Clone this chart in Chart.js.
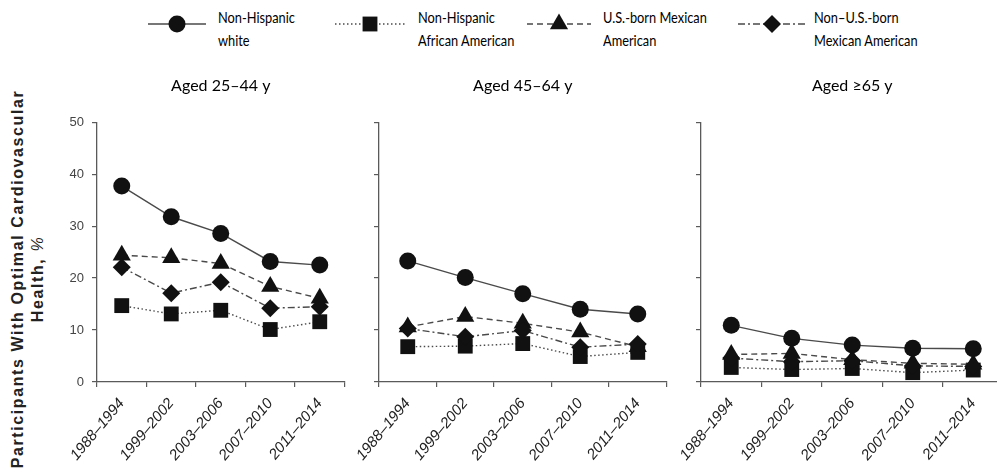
<!DOCTYPE html>
<html>
<head>
<meta charset="utf-8">
<script src="https://cdn.jsdelivr.net/npm/chart.js@4.4.1/dist/chart.umd.min.js"></script>
<style>
body{margin:0;background:#fff;width:997px;height:472px;overflow:hidden;position:relative;font-family:"Liberation Sans",Arial,sans-serif}
canvas.pane{position:absolute;top:60px}
#ytitle{position:absolute;left:28px;top:279px;transform:translate(-50%,-50%) rotate(-90deg);white-space:nowrap;text-align:center;font-weight:bold;font-size:16px;letter-spacing:1.6px;line-height:20px;color:#222}
#ytitle i{font-weight:normal}
.legtxt{position:absolute;top:5px;font-family:Lato,"Liberation Sans",sans-serif;font-size:16px;line-height:23px;color:#000;white-space:nowrap;transform:scaleX(0.8);transform-origin:0 0}
canvas.legmark{position:absolute;top:12px}
</style>
</head>
<body>
<div id="ytitle">Participants With Optimal Cardiovascular<br>Health, <i>%</i></div>
<canvas class="legmark" id="lm0" width="60" height="24" style="left:147px"></canvas>
<canvas class="legmark" id="lm1" width="72" height="24" style="left:334px"></canvas>
<canvas class="legmark" id="lm2" width="66" height="24" style="left:526px"></canvas>
<canvas class="legmark" id="lm3" width="70" height="24" style="left:737px"></canvas>
<div class="legtxt" style="left:218px">Non-Hispanic<br>white</div>
<div class="legtxt" style="left:418px">Non-Hispanic<br>African American</div>
<div class="legtxt" style="left:603px">U.S.-born Mexican<br>American</div>
<div class="legtxt" style="left:814px">Non–U.S.-born<br>Mexican American</div>
<canvas class="pane" id="c1" width="300" height="412" style="left:55px"></canvas>
<canvas class="pane" id="c2" width="343" height="412" style="left:334px"></canvas>
<canvas class="pane" id="c3" width="358" height="412" style="left:656px"></canvas>
<script>
// periodos e titulos
const periods = ['1988–1994', '1999–2002', '2003–2006', '2007–2010', '2011–2014'];
const panelTitles = ['Aged 25–44 y', 'Aged 45–64 y', 'Aged ≥65 y'];
const yTicks = [0, 10, 20, 30, 40, 50];

// valores (%)
const white25 = [37.7, 31.8, 28.6, 23.2, 22.5];
const white45 = [23.3, 20.1, 17.0, 14.0, 13.1];
const white65 = [10.9, 8.4, 7.1, 6.5, 6.4];

const black25 = [14.7, 13.1, 13.8, 10.1, 11.6];
const black45 = [6.8, 6.9, 7.4, 4.9, 5.7];
const black65 = [2.8, 2.4, 2.6, 1.8, 2.3];

const usMex25 = [24.4, 23.9, 22.8, 18.4, 16.1];
const usMex45 = [10.6, 12.6, 11.3, 9.6, 6.8];
const usMex65 = [5.3, 5.5, 4.3, 3.6, 3.4];

const nonUsMex25 = [22.1, 17.1, 19.2, 14.2, 14.5];
const nonUsMex45 = [10.3, 8.7, 9.9, 6.7, 7.3];
const nonUsMex65 = [4.6, 3.9, 4.1, 3.1, 3.0];

const seriesNames = ['Non-Hispanic white', 'Non-Hispanic African American', 'U.S.-born Mexican American', 'Non–U.S.-born Mexican American'];

const marks = [
  {pointStyle: 'circle', r: 8.5, dash: [], order: 0},
  {pointStyle: 'rect', r: 10.5, dash: [1.5, 2.5], order: 3},
  {pointStyle: 'triangle', r: 10.5, dash: [6, 4], order: 2},
  {pointStyle: 'rectRot', r: 9, dash: [7, 3, 2, 3], order: 1}
];
const lineColor = '#4a4a4a';
const markColor = '#111';
const axisColor = '#5a5a5a';

function makePanel(id, title, values, showLabels, yw, padRight) {
  const datasets = values.map((v, i) => ({
    label: seriesNames[i],
    data: v,
    order: marks[i].order,
    borderColor: lineColor,
    borderWidth: 1.4,
    borderDash: marks[i].dash,
    pointStyle: marks[i].pointStyle,
    pointRadius: marks[i].r,
    pointBackgroundColor: markColor,
    pointBorderColor: markColor,
    pointBorderWidth: 0,
    tension: 0,
    fill: false,
    clip: false
  }));
  return new Chart(document.getElementById(id), {
    type: 'line',
    data: {labels: periods, datasets: datasets},
    options: {
      responsive: false,
      animation: false,
      layout: {padding: {left: 0, right: padRight, top: 0, bottom: 0}},
      plugins: {
        legend: {display: false},
        tooltip: {enabled: false},
        title: {
          display: true, text: title, fullSize: false, color: '#000',
          font: {family: 'Lato,"Liberation Sans",sans-serif', size: 16, weight: 'normal'},
          padding: {top: 16, bottom: 27}
        }
      },
      scales: {
        x: {
          offset: true,
          grid: {offset: true, drawOnChartArea: false, tickLength: 5, color: axisColor, lineWidth: 1.2},
          border: {color: axisColor, width: 1.3},
          ticks: {minRotation: 50, maxRotation: 50, color: '#222', padding: 8,
            font: {family: '"Liberation Sans",sans-serif', style: 'italic', size: 15}},
          afterFit: s => { s.height = 90; s.paddingLeft = 0; s.paddingRight = 0; }
        },
        y: {
          min: 0, max: 50,
          afterBuildTicks: s => { s.ticks = yTicks.map(v => ({value: v})); },
          grid: {drawOnChartArea: false, tickLength: 5, color: axisColor, lineWidth: 1.2},
          border: {color: axisColor, width: 1.3},
          ticks: {display: showLabels, color: '#444', padding: 8,
            font: {family: '"Liberation Sans",sans-serif', size: 13}},
          afterFit: s => { s.width = yw; }
        }
      }
    }
  });
}

makePanel('c1', panelTitles[0], [white25, black25, usMex25, nonUsMex25], true, 42, 7);
makePanel('c2', panelTitles[1], [white45, black45, usMex45, nonUsMex45], false, 45, 7);
makePanel('c3', panelTitles[2], [white65, black65, usMex65, nonUsMex65], false, 45, 7);

// legenda: linha + marcador
function drawMark(ctx, style, x, y, r) {
  ctx.beginPath();
  if (style === 'circle') {
    ctx.arc(x, y, r, 0, Math.PI * 2);
  } else if (style === 'rect') {
    const s = r * Math.SQRT1_2;
    ctx.rect(x - s, y - s, 2 * s, 2 * s);
  } else if (style === 'triangle') {
    ctx.moveTo(x, y - r);
    ctx.lineTo(x + r * Math.sin(Math.PI * 2 / 3), y - r * Math.cos(Math.PI * 2 / 3));
    ctx.lineTo(x + r * Math.sin(Math.PI * 4 / 3), y - r * Math.cos(Math.PI * 4 / 3));
    ctx.closePath();
  } else {
    ctx.moveTo(x, y - r); ctx.lineTo(x + r, y); ctx.lineTo(x, y + r); ctx.lineTo(x - r, y);
    ctx.closePath();
  }
  ctx.fillStyle = markColor;
  ctx.fill();
}
marks.forEach((m, i) => {
  const cv = document.getElementById('lm' + i);
  const ctx = cv.getContext('2d');
  ctx.strokeStyle = lineColor;
  ctx.lineWidth = 1.4;
  ctx.setLineDash(m.dash);
  ctx.beginPath();
  ctx.moveTo(1, 12); ctx.lineTo(cv.width - 1, 12);
  ctx.stroke();
  drawMark(ctx, m.pointStyle, cv.width / 2, 12, m.r);
});
</script>
</body>
</html>
